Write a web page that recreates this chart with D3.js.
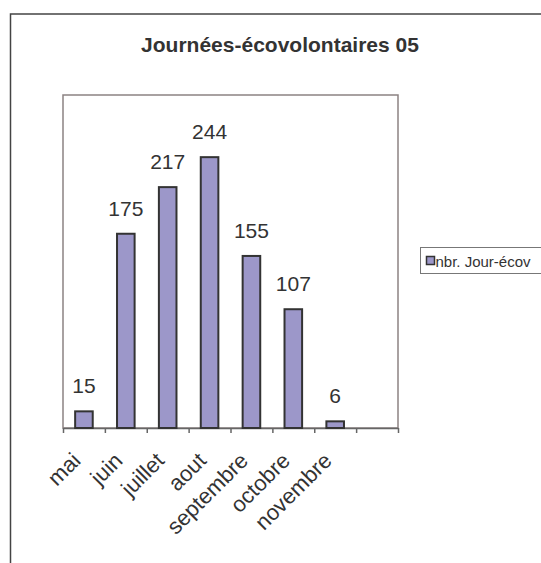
<!DOCTYPE html>
<html lang="fr">
<head>
<meta charset="UTF-8">
<title>Journées-écovolontaires 05</title>
<script src="https://cdn.jsdelivr.net/npm/d3@7"></script>
<style>
    body{ margin:0; background:#fff; }
    svg{ display:block; font-family:"Liberation Sans", Arial, sans-serif; }
    .axis path, .axis line{ stroke:#666; stroke-width:1.5; }
</style>
</head>
<body>
<script>
    // data
    const months = ["mai","juin","juillet","aout","septembre","octobre","novembre",""];
    const jours = [15,175,217,244,155,107,6,null];
    const seriesName = "nbr. Jour-écov";

    const width = 541, height = 563;
    const plot = {left:63, right:398, top:95, bottom:428};

    const svg = d3.select("body").append("svg")
        .attr("width", width).attr("height", height);

    // outer chart frame (runs past the window)
    svg.append("rect")
        .attr("x",10.5).attr("y",14)
        .attr("width",600).attr("height",600)
        .attr("fill","#fff").attr("stroke","#444").attr("stroke-width",1.5);

    svg.append("text")
        .attr("x",280).attr("y",52)
        .attr("text-anchor","middle")
        .attr("font-size",21).attr("font-weight","bold")
        .attr("fill","#333")
        .text("Journées-écovolontaires 05");

    //scales
    const xScale = d3.scaleBand().domain(d3.range(months.length))
        .range([plot.left, plot.right]);
    const xTicks = d3.scaleLinear().domain([0, months.length])
        .range([plot.left, plot.right]);
    const yScale = d3.scaleLinear().domain([0,300])
        .range([plot.bottom, plot.top]);

    // plot area box
    svg.append("rect")
        .attr("x",plot.left).attr("y",plot.top)
        .attr("width",plot.right-plot.left).attr("height",plot.bottom-plot.top)
        .attr("fill","none").attr("stroke","#8c8282").attr("stroke-width",1.5);

    // x axis, ticks between categories
    svg.append("g").attr("class","axis")
        .attr("transform",`translate(0,${plot.bottom})`)
        .call(d3.axisBottom(xTicks).tickValues(d3.range(months.length+1))
            .tickFormat("").tickSize(5).tickSizeOuter(0));

    const barW = xScale.bandwidth()*0.42;
    const data = months.map((m,i)=>({m:m, v:jours[i], i:i})).filter(d=>d.v!=null);

    svg.append("g").selectAll("rect")
        .data(data).enter().append("rect")
        .attr("x", d=>xScale(d.i)+xScale.bandwidth()/2-barW/2)
        .attr("y", d=>yScale(d.v))
        .attr("width", barW)
        .attr("height", d=>yScale(0)-yScale(d.v))
        .attr("fill","#9c97c9").attr("stroke","#333").attr("stroke-width",2);

    svg.append("g").selectAll("text")
        .data(data).enter().append("text")
        .attr("x", d=>xScale(d.i)+xScale.bandwidth()/2)
        .attr("y", d=>yScale(d.v)-18)
        .attr("text-anchor","middle")
        .attr("font-size",21).attr("fill","#333")
        .text(d=>d.v);

    // category labels at -45 degrees
    svg.append("g").selectAll("text")
        .data(months.map((m,i)=>({m:m,i:i}))).enter().append("text")
        .attr("transform", d=>`translate(${xScale(d.i)+xScale.bandwidth()/2-2},${plot.bottom+34}) rotate(-45)`)
        .attr("text-anchor","end")
        .attr("font-size",22).attr("fill","#333")
        .text(d=>d.m);

    // legend
    const legend = svg.append("g").attr("transform","translate(420.5,247.5)");
    legend.append("rect")
        .attr("width",130).attr("height",26)
        .attr("fill","#fff").attr("stroke","#777").attr("stroke-width",1);
    legend.append("rect")
        .attr("x",6).attr("y",9).attr("width",8).attr("height",8)
        .attr("fill","#9c97c9").attr("stroke","#333").attr("stroke-width",1.5);
    legend.append("text")
        .attr("x",15).attr("y",19)
        .attr("font-size",15).attr("fill","#333")
        .text(seriesName);
</script>
</body>
</html>
